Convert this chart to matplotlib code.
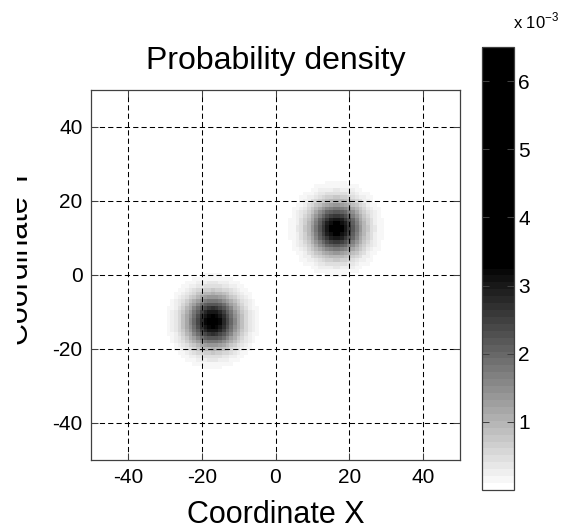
import numpy as np
import matplotlib
matplotlib.use('Agg')
import matplotlib.pyplot as plt
from matplotlib.colors import ListedColormap
from matplotlib.transforms import Bbox, TransformedBbox

plt.rcParams['font.family'] = ['Liberation Sans', 'DejaVu Sans']
plt.rcParams['mathtext.fontset'] = 'custom'
plt.rcParams['mathtext.rm'] = 'Liberation Sans'
plt.rcParams['axes.unicode_minus'] = False

# two-component gaussian mixture
centers_x = [16.5, -17.0]
centers_y = [12.5, -12.5]
sigma = [4.8, 4.8]
weights = [0.5, 0.5]
grid = np.arange(-50, 51)          # coordinate samples, 1 unit apart
cbar_ticks = [1e-3, 2e-3, 3e-3, 4e-3, 5e-3, 6e-3]
cbar_labels = ['1', '2', '3', '4', '5', '6']
axis_ticks = [-40, -20, 0, 20, 40]
vmax = 6.5e-3

X, Y = np.meshgrid(grid, grid)
Z = np.zeros_like(X, dtype=float)
for cx, cy, s, w in zip(centers_x, centers_y, sigma, weights):
    Z += w / (2 * np.pi * s**2) * np.exp(-((X - cx)**2 + (Y - cy)**2) / (2 * s**2))

# inverted gray map: 32 steps white->black, then saturated black
levels = np.linspace(1, 0, 33)[:32]
cols = [(g, g, g) for g in levels] + [(0, 0, 0)] * 32
cmap = ListedColormap(cols)

fig = plt.figure(figsize=(5.82, 5.28), dpi=100)
ax = fig.add_axes([91/582, 68/528, 369/582, 370/528])
cax = fig.add_axes([482/582, 38/528, 32/582, 443/528])

im = ax.imshow(Z, cmap=cmap, vmin=0, vmax=vmax, origin='lower', interpolation='nearest',
               extent=[-50.5, 50.5, -50.5, 50.5], aspect='auto')
ax.set_xlim(-50, 50)
ax.set_ylim(-50, 50)
ax.set_xticks(axis_ticks)
ax.set_yticks(axis_ticks)
ax.grid(True, color='black', linestyle=(0, (5, 3)), linewidth=0.75)
ax.tick_params(direction='in', length=5, width=0.75, color='#404040', labelsize=15,
               top=True, right=True, pad=6)
for sp in ax.spines.values():
    sp.set_color('#404040')
    sp.set_linewidth(0.9)
ax.set_title('Probability density', fontsize=23, pad=15)
ax.set_xlabel('Coordinate X', fontsize=22, labelpad=9)

ylab = fig.text(35/582, 272/528, 'Coordinate Y', rotation=90, fontsize=22,
                ha='right', va='center')
# the label is cut off on its left side in the original
ylab.set_clip_box(TransformedBbox(Bbox([[17/582, 0], [1, 1]]), fig.transFigure))
ylab.set_clip_on(True)

cb = fig.colorbar(im, cax=cax)
cb.set_ticks(cbar_ticks)
cb.set_ticklabels(cbar_labels)
cb.outline.set_edgecolor('#404040')
cb.outline.set_linewidth(0.9)
cax.tick_params(direction='in', length=5, width=0.75, color='#404040', labelsize=15,
                left=True, right=True, pad=3)
fig.text(513/582, 1 - 28/528, r'x 10$^{\mathregular{-3}}$', fontsize=12, ha='left', va='baseline')

fig.savefig('out.png', dpi=100)
